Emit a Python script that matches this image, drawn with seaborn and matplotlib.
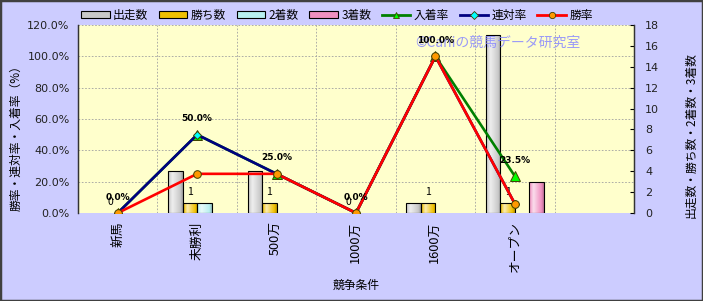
import numpy as np
import pandas as pd
import matplotlib
matplotlib.use('Agg')
import matplotlib.pyplot as plt
import seaborn as sns
from matplotlib.patches import Patch, Rectangle
from matplotlib.lines import Line2D
from matplotlib.colors import to_rgb

plt.rcParams['font.family'] = ['Noto Sans CJK JP', 'DejaVu Sans']

# ---- data ----
categories = ['新馬', '未勝利', '500万', '1000万', '1600万', 'オープン']
slots = categories + ['']
count_series = ['出走数', '勝ち数', '2着数', '3着数']
starts = [0, 4, 4, 0, 1, 17]
wins = [0, 1, 1, 0, 1, 1]
seconds = [0, 1, 0, 0, 0, 0]
thirds = [0, 0, 0, 0, 0, 3]
rate_series = ['入着率', '連対率', '勝率']
place_rate = [0.0, 50.0, 25.0, 0.0, 100.0, 23.5]
rentai_rate = [0.0, 50.0, 25.0, 0.0, 100.0, 5.9]
win_rate = [0.0, 25.0, 25.0, 0.0, 100.0, 5.9]
place_labels = ['0.0%', '50.0%', '25.0%', '0.0%', '100.0%', '23.5%']
pct_ticks = [0, 20, 40, 60, 80, 100, 120]
count_ticks = [0, 2, 4, 6, 8, 10, 12, 14, 16, 18]

bar_colors = ['#C8C8C8', '#F0C000', '#B8F0F0', '#F090C0']
line_colors = ['#008000', '#000080', '#FF0000']
marker_faces = ['#00FF00', '#00FFFF', '#FF9900']
markers = ['^', 'D', 'o']

BG = '#CCCCFF'
PLOT_BG = '#FFFFCC'

df = pd.DataFrame({
    'cat': categories * 4,
    'series': np.repeat(count_series, len(categories)),
    'value': starts + wins + seconds + thirds,
})

fig = plt.figure(figsize=(7.03, 3.01), dpi=100, facecolor=BG)
ax = fig.add_axes([78 / 703, 1 - 213 / 301, (634 - 78) / 703, (213 - 25) / 301])
ax.set_facecolor(PLOT_BG)

sns.barplot(data=df, x='cat', y='value', hue='series', order=slots,
            hue_order=count_series, palette=bar_colors, width=0.73, gap=0,
            edgecolor='black', linewidth=0.8, errorbar=None, legend=False,
            ax=ax)

ax.set_xlim(-0.5, len(slots) - 0.5)
ax.set_ylim(0, 18)


def gradient_cols(base, n=64):
    c = np.array(to_rgb(base))
    t = np.linspace(0, 1, n)
    s = np.where(t < 0.3, -0.08 + 0.78 * t / 0.3, 0.7 - 0.92 * (t - 0.3) / 0.7)
    return np.array([c + si * (1 - c) if si > 0 else c * (1 + si) for si in s])


# cylinder-like shading of bars
def shade(patch, base):
    h = patch.get_height()
    if h <= 0:
        patch.set_visible(False)
        return
    x0, y0, w = patch.get_x(), patch.get_y(), patch.get_width()
    img = gradient_cols(base)[None, :, :]
    im = ax.imshow(img, extent=(x0, x0 + w, y0, y0 + h), aspect='auto',
                   interpolation='bilinear', zorder=2.5)
    im.set_clip_path(patch)
    patch.set_facecolor('none')
    patch.set_zorder(3)


for cont, col in zip(ax.containers, bar_colors):
    for p in cont.patches:
        shade(p, col)

ax.set_xlim(-0.5, len(slots) - 0.5)
ax.set_ylim(0, 18)

# win count labels
ax.bar_label(ax.containers[1], labels=[str(v) for v in wins], padding=4,
             fontsize=7.5, color='black', zorder=5)

# grid
for p in pct_ticks[1:]:
    ax.axhline(p / 120 * 18, color='#A0A0A0', lw=0.6, ls=(0, (2, 2)), zorder=0.8)
for b in np.arange(0.5, len(slots) - 0.5, 1):
    ax.axvline(b, color='#A0A0A0', lw=0.6, ls=(0, (2, 2)), zorder=0.8)

# rate lines on twin axis
axp = ax.twinx()
rates = [place_rate, rentai_rate, win_rate]
xs = np.arange(len(categories))
msizes = [6.5, 4.5, 5.5]
for vals, lc, mf, mk, ms in zip(rates, line_colors, marker_faces, markers, msizes):
    sns.lineplot(x=xs, y=vals, ax=axp, color=lc, lw=1.9, marker=mk,
                 markersize=ms, markerfacecolor=mf, markeredgecolor='#404000',
                 markeredgewidth=0.7, zorder=4)
axp.set_ylim(0, 120)
axp.set_xlim(-0.5, len(slots) - 0.5)

for i, (v, lab) in enumerate(zip(place_rate, place_labels)):
    axp.annotate(lab, (i, v), xytext=(0, 11.5), textcoords='offset points',
                 ha='center', va='center', fontsize=6.5, fontweight='bold',
                 family='DejaVu Sans', zorder=6)

# axes styling
axp.yaxis.tick_left()
axp.yaxis.set_label_position('left')
ax.yaxis.tick_right()
ax.yaxis.set_label_position('right')

axp.set_yticks(pct_ticks)
axp.set_yticklabels([f'{p:.1f}%' for p in pct_ticks], fontsize=8, color='#222222',
                    family='DejaVu Sans')
ax.set_yticks(count_ticks)
ax.set_yticklabels([str(c) for c in count_ticks], fontsize=8, color='#222222',
                   family='DejaVu Sans')
ax.tick_params(axis='y', direction='in', length=3, pad=8, right=True, left=False)
axp.tick_params(axis='y', direction='in', length=0, pad=6)

ax.set_xticks(range(len(slots)))
ax.set_xticklabels(slots, rotation=90, fontsize=9.2, va='top', ha='center')
ax.tick_params(axis='x', length=0, pad=6)
axp.tick_params(axis='x', length=0, labelbottom=False)

axp.set_ylabel('勝率・連対率・入着率（%）', fontsize=8.5, labelpad=4)
axp.yaxis.set_label_coords(-0.1, 0.415)
ax.set_ylabel('出走数・勝ち数・2着数・3着数', fontsize=8.5, rotation=90)
ax.yaxis.set_label_coords(1.09, 0.415)
ax.set_xlabel('')
axp.set_xlabel('')
fig.text(356 / 703, 1 - 285 / 301, '競争条件', ha='center', va='center', fontsize=8.5)

for a in (ax, axp):
    a.spines['top'].set_visible(False)
    a.spines['bottom'].set_visible(False)
    a.spines['left'].set_color('#333333')
    a.spines['right'].set_color('#333333')
    a.spines['left'].set_linewidth(0.9)
    a.spines['right'].set_linewidth(0.9)

# watermark
axp.text(0.606, 0.905, '©Caniの競馬データ研究室', transform=axp.transAxes,
         fontsize=10, color='#8888FF', alpha=0.85, ha='left', va='center', zorder=1)

# legend
handles = [Patch(facecolor=c, edgecolor='black', linewidth=0.8) for c in bar_colors]
for lc, mf, mk in zip(line_colors, marker_faces, markers):
    handles.append(Line2D([0], [0], color=lc, lw=2, marker=mk, markersize=4.5,
                          markerfacecolor=mf, markeredgecolor='#404000',
                          markeredgewidth=0.6))
fig.legend(handles, count_series + rate_series, loc='center', ncol=7,
           bbox_to_anchor=(337 / 703, 1 - 15 / 301), frameon=False, fontsize=8.5,
           handlelength=2.4, handleheight=0.5, handletextpad=0.3,
           columnspacing=0.9)

# figure border
fig.add_artist(Rectangle((0, 0), 1, 1, transform=fig.transFigure, fill=False,
                         edgecolor='#404040', linewidth=2.5))

fig.savefig('out.png', dpi=100, facecolor=BG)
